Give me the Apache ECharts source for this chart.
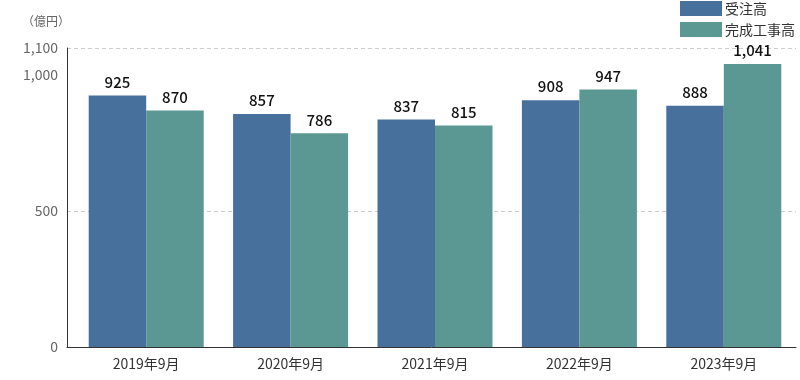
<!DOCTYPE html>
<html>
<head>
<meta charset="utf-8">
<script src="https://cdn.jsdelivr.net/npm/echarts@6/dist/echarts.min.js"></script>
<style>html,body{margin:0;padding:0;background:#fff}#c{width:800px;height:380px}</style>
</head>
<body>
<div id="c"></div>
<script>
const categories = ['2019年9月', '2020年9月', '2021年9月', '2022年9月', '2023年9月'];
const orders = [925, 857, 837, 908, 888];
const completed = [870, 786, 815, 947, 1041];
const seriesNames = ['受注高', '完成工事高'];
const unitLabel = '（億円）';

const FONT = '"Noto Sans CJK JP", "Noto Sans", sans-serif';
const fmt = v => String(v).replace(/\B(?=(\d{3})+(?!\d))/g, ',');

const chart = echarts.init(document.getElementById('c'));
chart.setOption({
  animation: false,
  textStyle: { fontFamily: FONT },
  legend: {
    orient: 'vertical', left: 680, top: 1, padding: 0,
    itemWidth: 42, itemHeight: 15, itemGap: 6,
    icon: 'rect',
    textStyle: { fontSize: 14, color: '#333', fontFamily: FONT, padding: [0, 0, 0, -2] },
    data: seriesNames
  },
  graphic: [{
    type: 'text', left: 22, top: 15,
    style: { text: unitLabel, fontSize: 12, fill: '#666', fontFamily: FONT }
  }],
  grid: [
    { left: 74, right: 4, top: 48, bottom: 33 },
    { left: 67, right: 4, top: 48, bottom: 33 }
  ],
  xAxis: [
    {
      type: 'category', gridIndex: 0, data: categories,
      axisLine: { show: false }, axisTick: { show: false },
      axisLabel: { fontSize: 14, color: '#333', margin: 10, fontFamily: FONT }
    },
    {
      type: 'value', gridIndex: 1, min: 0, max: 1,
      axisLine: { show: true, lineStyle: { color: '#333', width: 1 } },
      axisTick: { show: false }, axisLabel: { show: false }, splitLine: { show: false }
    }
  ],
  yAxis: [
    { type: 'value', gridIndex: 0, min: 0, max: 1100, show: false, splitLine: { show: false } },
    {
      type: 'value', gridIndex: 1, min: 0, max: 1100, interval: 500,
      axisLine: { show: true, lineStyle: { color: '#333', width: 1 } },
      axisTick: { show: false },
      axisLabel: { fontSize: 14, color: '#666', margin: 9, formatter: v => fmt(v), fontFamily: FONT },
      splitLine: { show: true, lineStyle: { type: [4, 3], color: ['transparent', '#ccc', 'transparent', '#ccc'] } }
    }
  ],
  series: [
    {
      name: seriesNames[0], type: 'bar', xAxisIndex: 0, yAxisIndex: 0,
      data: orders, barWidth: 57.5, barGap: '0%',
      itemStyle: { color: '#48709c' },
      label: { show: true, position: 'top', distance: 6, fontSize: 15, fontWeight: 500, color: '#111', formatter: p => fmt(p.value), fontFamily: FONT }
    },
    {
      name: seriesNames[1], type: 'bar', xAxisIndex: 0, yAxisIndex: 0,
      data: completed, barWidth: 57.5, barGap: '0%',
      itemStyle: { color: '#5b9793' },
      label: { show: true, position: 'top', distance: 6, fontSize: 15, fontWeight: 500, color: '#111', formatter: p => fmt(p.value), fontFamily: FONT }
    }
  ]
});
</script>
</body>
</html>
